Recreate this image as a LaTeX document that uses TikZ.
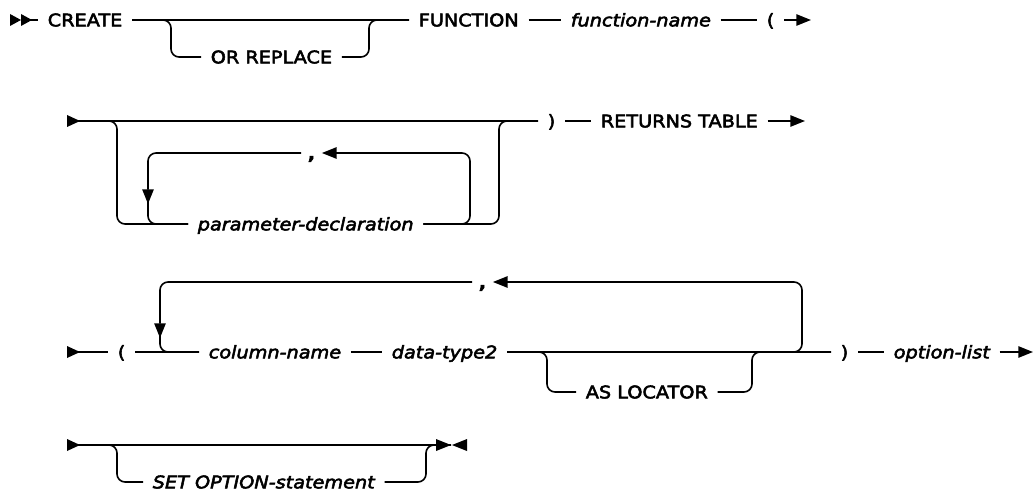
\documentclass[tikz,border=0pt]{standalone}
\usepackage{fontspec}
\setmainfont{DejaVu Sans}[FakeStretch=1.11, FakeBold=3]
\usepackage{tikz}
\usetikzlibrary{
    arrows.meta,
    positioning
}

\begin{document}
\begin{tikzpicture}[
    x=0.75pt, y=-0.75pt,
    >={Triangle[length=11pt, width=8.5pt]},
    line width=1.2pt,
    every node/.style={anchor=west, inner xsep=6.75pt, inner ysep=0pt,
        text height=13pt, text depth=3.5pt, font=\fontsize{13pt}{15pt}\selectfont},
    var/.style={font=\fontsize{13pt}{15pt}\selectfont\itshape},
    sep/.style={inner xsep=4.5pt, font=\fontsize{13pt}{15pt}\selectfont\bfseries},
    track/.style={rounded corners=6pt}
]
\useasboundingbox (0,0) rectangle (1036,492);

% ==================== ROW 1: CREATE ... FUNCTION ====================
\fill (10,14) -- (21,20) -- (10,26) -- cycle;
\fill (21,14) -- (32,20) -- (21,26) -- cycle;
\coordinate (s1) at (21,20);
\coordinate (e1) at (811,20);

\node (create) at (38,20) {CREATE};
\node (orrep) at (201,57) {OR REPLACE};
\node (func) at (409,20) {FUNCTION};
\node[var] (fname) at (561,20) {function-name};
\node (lpar1) at (757,20) {(};

\draw (s1) -- (create.west);
\draw (create.east) -- (func.west);
\draw[track] (create.east) -- (171,20) -- (171,57) -- (orrep.west);
\draw[track] (orrep.east) -- (369,57) -- (369,20) -- (func.west);
\draw (func.east) -- (fname.west);
\draw (fname.east) -- (lpar1.west);
\draw[->] (lpar1.east) -- (e1);

% ==================== ROW 2: parameters ====================
\fill (67,115) -- (80,121) -- (67,127) -- cycle;
\coordinate (s2) at (67,121);
\coordinate (e2) at (805,121);

\node[var] (pdecl) at (188,224) {parameter-declaration};
\node[sep] (comma2) at (301,153) {,};
\node (rpar2) at (538,121) {)};
\node (rtab) at (591,121) {RETURNS TABLE};

\draw (s2) -- (rpar2.west);
\draw[track] (s2) -- (117,121) -- (117,224) -- (pdecl.west);
\draw[track] (pdecl.east) -- (499,224) -- (499,121) -- (rpar2.west);
% repeat loop
\draw[track, ->] (pdecl.east) -- (470,224) -- (470,153) -- (comma2.east);
\draw[track, ->] (comma2.west) -- (148,153) -- (148,204);
\draw[track] (148,195) -- (148,224) -- (pdecl.west);
\draw (rpar2.east) -- (rtab.west);
\draw[->] (rtab.east) -- (e2);

% ==================== ROW 3: column list ====================
\fill (67,346) -- (80,352) -- (67,358) -- cycle;
\coordinate (s3) at (67,352);
\coordinate (e3) at (1033,352);

\node (lpar3) at (108,352) {(};
\node[var] (colname) at (199,352) {column-name};
\node[var] (dtype) at (382,352) {data-type2};
\node[sep] (comma3) at (472,282) {,};
\node (asloc) at (576,392) {AS LOCATOR};
\node (rpar3) at (831,352) {)};
\node[var] (optl) at (884,352) {option-list};

\draw (s3) -- (lpar3.west);
\draw (lpar3.east) -- (colname.west);
\draw (colname.east) -- (dtype.west);
\draw (dtype.east) -- (rpar3.west);
\draw[track] (dtype.east) -- (547,352) -- (547,392) -- (asloc.west);
\draw[track] (asloc.east) -- (752,392) -- (752,352) -- (rpar3.west);
% repeat loop
\draw[track, ->] (dtype.east) -- (802,352) -- (802,282) -- (comma3.east);
\draw[track, ->] (comma3.west) -- (160,282) -- (160,338);
\draw[track] (160,330) -- (160,352) -- (colname.west);
\draw (rpar3.east) -- (optl.west);
\draw[->] (optl.east) -- (e3);

% ==================== ROW 4: SET OPTION ====================
\fill (67,439) -- (80,445) -- (67,451) -- cycle;
\coordinate (s4) at (67,445);
\coordinate (e4) at (451,445);

\node[var] (setopt) at (143,482) {SET OPTION-statement};

\draw (s4) -- (e4);
\draw[track] (s4) -- (117,445) -- (117,482) -- (setopt.west);
\draw[track] (setopt.east) -- (426,482) -- (426,445) -- (e4);
\fill (436,439) -- (451,445) -- (436,451) -- cycle;
\fill (467,439) -- (452,445) -- (467,451) -- cycle;

\end{tikzpicture}
\end{document}
